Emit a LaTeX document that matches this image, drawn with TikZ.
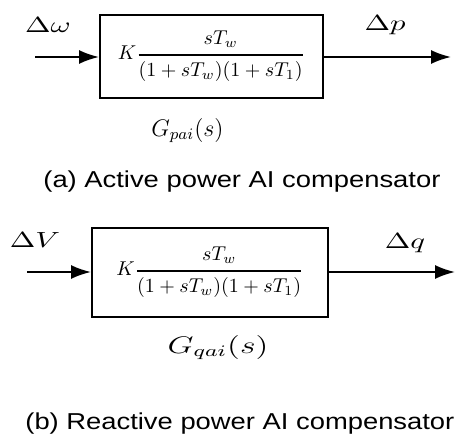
\documentclass[tikz,border=0pt]{standalone}
\usepackage{amsmath}
\usepackage{fontspec}
\usepackage{graphicx}
\usetikzlibrary{positioning, arrows.meta}
\newfontfamily\capfont[FakeStretch=1.19]{Liberation Sans}
\newcommand{\wide}[1]{\scalebox{1.4}[1]{#1}}

\begin{document}
\begin{tikzpicture}[
  x=0.5pt, y=-0.5pt,
    block/.style={draw, line width=1pt, inner sep=0pt},
    signal/.style={line width=1pt, -{Latex[length=10pt, width=7pt]}},
    sig/.style={font=\fontsize{11}{13}\selectfont, inner sep=0pt},
    caption/.style={anchor=west, inner sep=0pt, font=\capfont\fontsize{11.5}{14}\selectfont}
]
\useasboundingbox (0,0) rectangle (459,443);

% (a) active power branch
\node[block, minimum width=111.5pt, minimum height=41.5pt] (boxP) at (211.5,56.5)
  {$\displaystyle K\genfrac{}{}{1pt}{}{sT_w}{(1+sT_w)(1+sT_1)}$};
\node[below=6pt of boxP, xshift=-12pt, font=\fontsize{11.5}{14}\selectfont] (Gp) {$G_{pai}(s)$};
\coordinate (inP) at (35,57);
\coordinate (outP) at (451,57);

\node[sig] (dw) at (48,25) {\wide{$\Delta\omega$}};
\node[sig] (dp) at (385,25) {\wide{$\Delta p$}};

\draw[signal] (inP) -- (boxP.west |- inP);
\draw[signal] (boxP.east |- outP) -- (outP);

\node[caption] (capA) at (43,182) {(a) Active power AI compensator};

% (b) reactive power branch
\node[block, minimum width=118pt, minimum height=44.5pt] (boxQ) at (210,272.5)
  {$\displaystyle K\genfrac{}{}{1pt}{}{sT_w}{(1+sT_w)(1+sT_1)}$};
\node[below=5pt of boxQ, xshift=4pt] (Gq) {\wide{\fontsize{12}{14}\selectfont$G_{qai}(s)$}};
\coordinate (inQ) at (27,272);
\coordinate (outQ) at (455,272);

\node[sig] (dV) at (35,240) {\wide{$\Delta V$}};
\node[sig] (dq) at (405,243) {\wide{$\Delta q$}};

\draw[signal] (inQ) -- (boxQ.west |- inQ);
\draw[signal] (boxQ.east |- outQ) -- (outQ);

\node[caption] (capB) at (25,424) {(b) Reactive power AI compensator};

\end{tikzpicture}
\end{document}
